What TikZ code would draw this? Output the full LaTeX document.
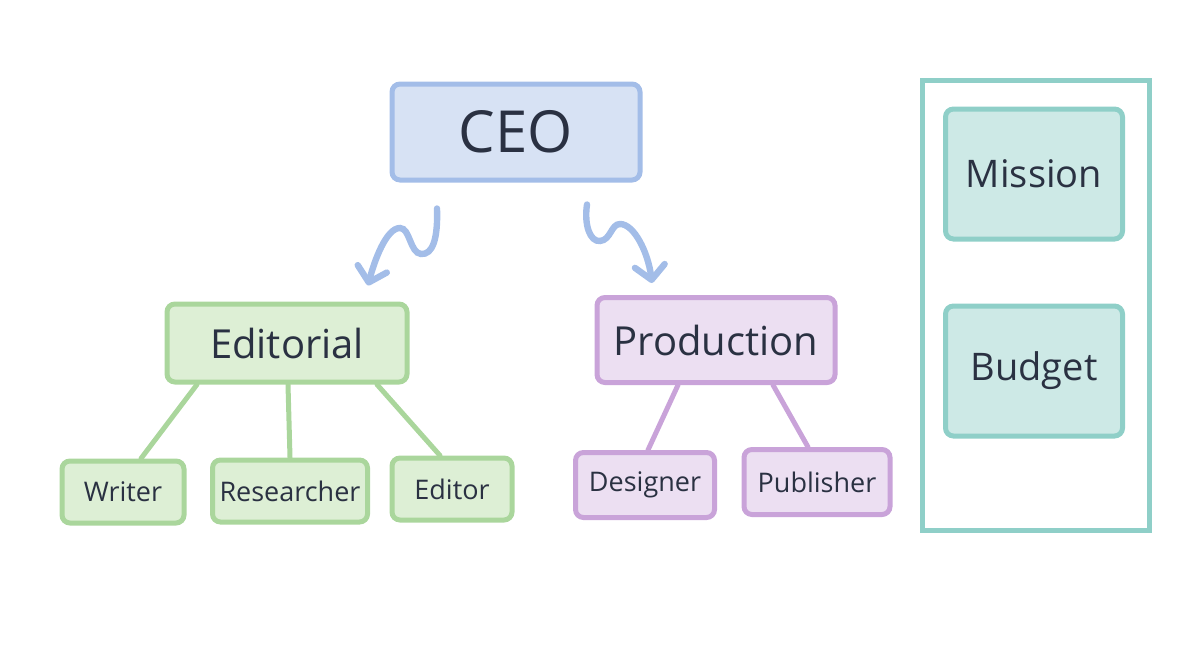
\documentclass[tikz,border=0pt]{standalone}
\usepackage{fontspec}
\setmainfont{Open Sans}
\usetikzlibrary{arrows.meta}

\definecolor{ink}{HTML}{2A3142}
\definecolor{ceofill}{HTML}{D7E2F4}
\definecolor{ceoline}{HTML}{A3BDE8}
\definecolor{edfill}{HTML}{DDEFD5}
\definecolor{edline}{HTML}{AAD69C}
\definecolor{prfill}{HTML}{ECDFF2}
\definecolor{prline}{HTML}{C9A3D9}
\definecolor{tlfill}{HTML}{CDE9E6}
\definecolor{tlline}{HTML}{8FCFC8}

\begin{document}
\begin{tikzpicture}[
    x=0.5pt, y=-0.5pt,
    box/.style={draw, rectangle, rounded corners=4pt, line width=2.5pt, text=ink, inner sep=0pt},
    ceobox/.style={box, draw=ceoline, fill=ceofill, font=\fontsize{29}{32}\selectfont},
    edbox/.style={box, draw=edline, fill=edfill},
    prbox/.style={box, draw=prline, fill=prfill},
    tlbox/.style={box, draw=tlline, fill=tlfill, minimum width=88.5pt, minimum height=65pt, font=\fontsize{19}{22}\selectfont},
    head/.style={font=\fontsize{20}{24}\selectfont},
    role/.style={font=\fontsize{13.5}{16}\selectfont, minimum height=31pt},
    edlink/.style={draw=edline, line width=2.5pt, line cap=round},
    prlink/.style={draw=prline, line width=2.5pt, line cap=round},
    wave/.style={draw=ceoline, line width=3.2pt, line cap=round, -{Straight Barb[round, length=7pt, width=15pt]}}
]
\useasboundingbox (0,0) rectangle (1200,669);

% top
\node[ceobox, minimum width=124pt, minimum height=48pt] (ceo) at (516,132) {CEO};

% departments
\node[edbox, head, minimum width=120pt, minimum height=39pt] (editorial) at (287,343) {Editorial};
\node[prbox, head, minimum width=119pt, minimum height=42.5pt] (production) at (716,340) {Production};

% roles
\node[edbox, role, minimum width=61pt] (writer) at (123,492) {Writer};
\node[edbox, role, minimum width=77.5pt] (researcher) at (290,491) {Researcher};
\node[edbox, role, minimum width=60pt] (editor) at (452,489) {Editor};
\node[prbox, role, minimum width=69.5pt, minimum height=32.5pt] (designer) at (645,485) {Designer};
\node[prbox, role, minimum width=73pt, minimum height=32.5pt] (publisher) at (817,482) {Publisher};

% side panel
\node[draw=tlline, line width=2.5pt, rectangle, minimum width=113.5pt, minimum height=225pt] (panel) at (1036,305) {};
\node[tlbox] (mission) at (1034,174) {Mission};
\node[tlbox] (budget) at (1034,371) {Budget};

% tree lines
\draw[edlink] ([xshift=-45pt]editorial.south) -- ([xshift=9pt]writer.north);
\draw[edlink] ([xshift=0.5pt]editorial.south) -- (researcher.north);
\draw[edlink] ([xshift=45pt]editorial.south) -- ([xshift=-6pt]editor.north);
\draw[prlink] ([xshift=-19pt]production.south) -- ([xshift=1.5pt]designer.north);
\draw[prlink] ([xshift=28.5pt]production.south) -- ([xshift=-4.5pt]publisher.north);

% squiggly arrows
\coordinate (lfrom) at ([xshift=-39.5pt, yshift=-13pt]ceo.south);
\coordinate (lto) at ([xshift=40.5pt, yshift=8pt]editorial.north);
\coordinate (rfrom) at ([xshift=35.5pt, yshift=-11pt]ceo.south);
\coordinate (rto) at ([xshift=-32pt, yshift=6pt]production.north);
\draw[wave] (lfrom) .. controls (438,238) and (433,255) .. (421,254)
    .. controls (410,253) and (410,228) .. (400,228)
    .. controls (386,228) and (374,262) .. (lto);
\draw[wave] (rfrom) .. controls (584,225) and (590,242) .. (600,241)
    .. controls (611,240) and (611,224) .. (620,224)
    .. controls (634,224) and (648,252) .. (rto);

\end{tikzpicture}
\end{document}
